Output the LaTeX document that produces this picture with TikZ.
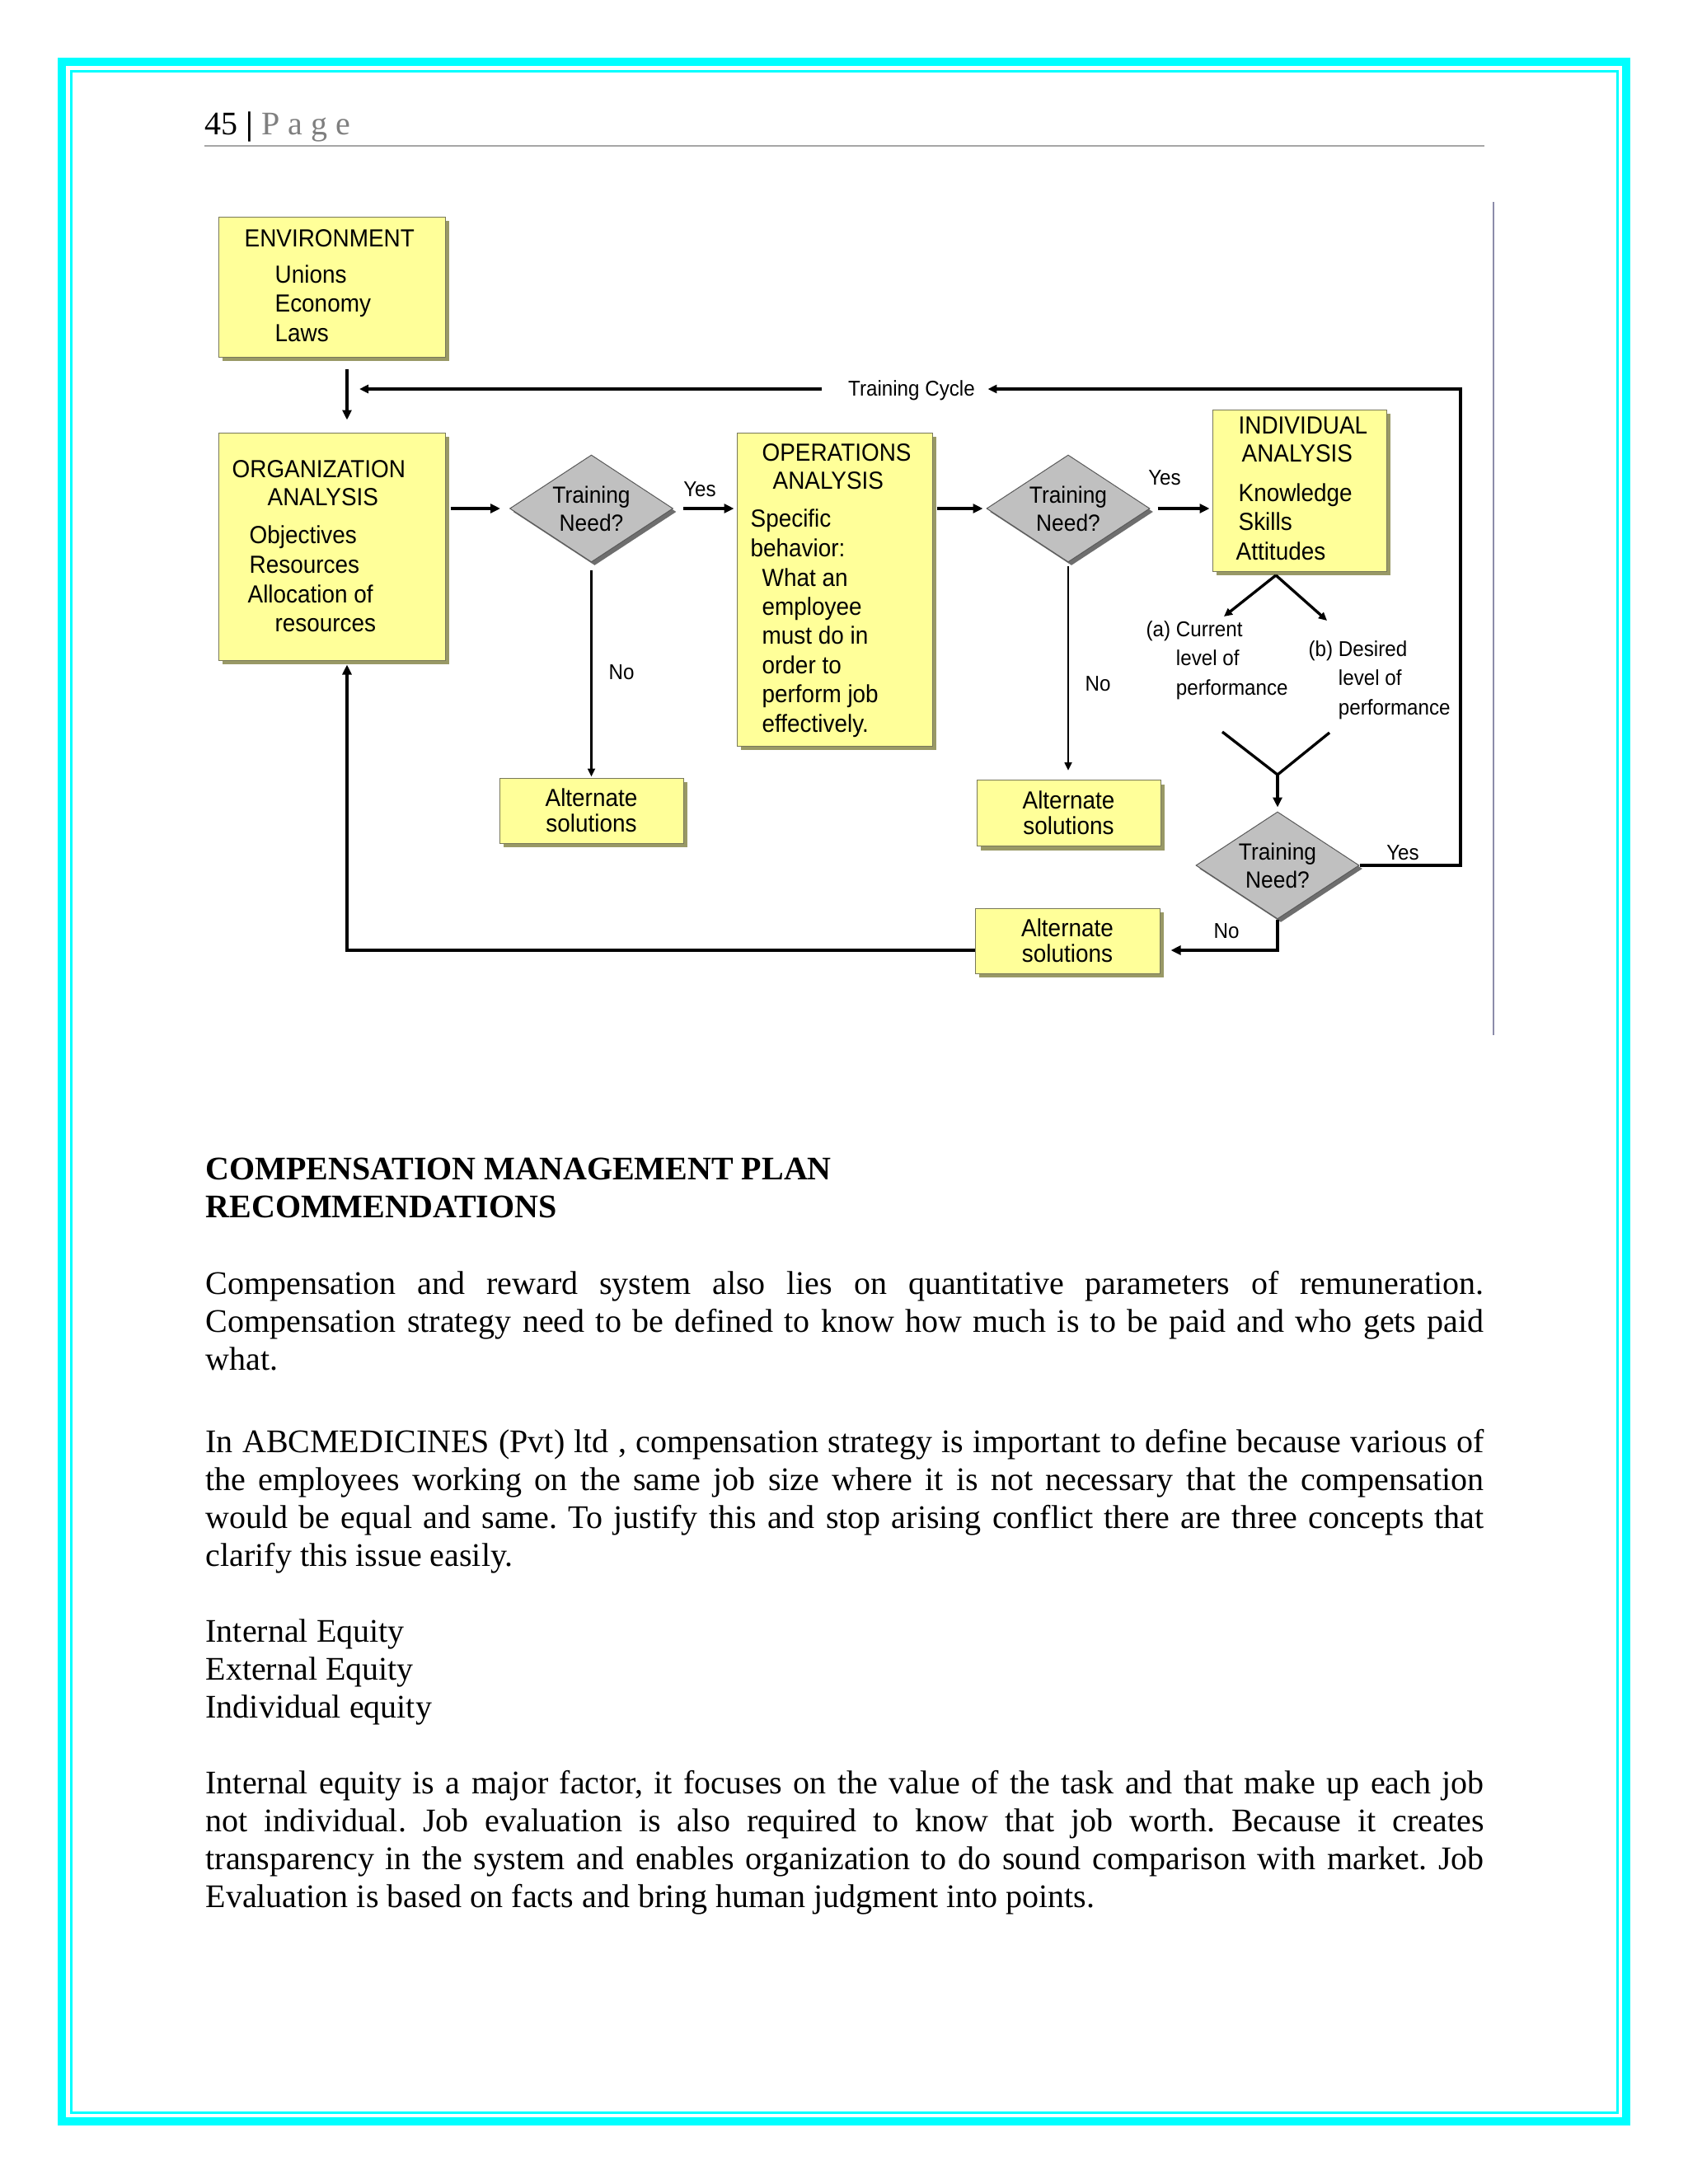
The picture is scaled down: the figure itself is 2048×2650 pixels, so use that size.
\documentclass[tikz,border=0pt]{standalone}
\usepackage{fontspec}
\setmainfont{Liberation Serif}
\newfontfamily\dg[FakeStretch=0.93]{Liberation Sans}
\usetikzlibrary{arrows.meta,shapes.geometric,shadows,calc}
\definecolor{boxyellow}{RGB}{255,255,153}
\definecolor{boxshadow}{RGB}{153,153,102}
\definecolor{boxedge}{RGB}{120,120,90}
\definecolor{diagray}{RGB}{192,192,192}
\definecolor{diaedge}{RGB}{90,90,90}
\definecolor{diashadow}{RGB}{110,110,110}
\definecolor{pagecyan}{RGB}{0,255,255}
\definecolor{rulegray}{RGB}{166,166,166}
\definecolor{pagegray}{RGB}{127,127,127}
\definecolor{marginline}{RGB}{140,140,170}
\newcommand{\jl}[1]{\makebox[465.3pt][s]{#1}}
\frenchspacing
\begin{document}
\begin{tikzpicture}[x=0.3pt,y=-0.3pt,
 box/.style={draw=boxedge, line width=0.3pt, fill=boxyellow, inner sep=0pt,
   drop shadow={shadow xshift=1.5pt, shadow yshift=-1.5pt, fill=boxshadow, opacity=1}},
 dia/.style={diamond, draw=diaedge, line width=0.3pt, fill=diagray, inner sep=0pt,
   minimum width=59.4pt, minimum height=39pt, aspect=1.52, align=center,
   font=\dg\fontsize{8.5}{10.2}\selectfont,
   drop shadow={shadow xshift=1.2pt, shadow yshift=-1.2pt, fill=diashadow, opacity=1}},
 bt/.style={anchor=base west, inner sep=0pt, font=\dg\fontsize{9}{10.8}\selectfont},
 alt/.style={box, align=center, font=\dg\fontsize{9}{9.3}\selectfont},
 lbl/.style={inner sep=0pt, font=\dg\fontsize{7.8}{10.7}\selectfont},
 arr/.style={line width=1.2pt, -{Triangle[length=3.6pt,width=3.3pt]}},
 arrthin/.style={line width=0.8pt, -{Triangle[length=3pt,width=2.6pt]}},
 cyc/.style={line width=1pt, -{Triangle[length=3.3pt,width=3pt]}},
 body/.style={anchor=base west, inner sep=0pt, font=\fontsize{12}{13.8}\selectfont},
]
\useasboundingbox (0,0) rectangle (2048,2650);
\fill[white] (0,0) rectangle (2048,2650);
% page border
\draw[pagecyan, line width=3pt] (75,75) rectangle (1973,2574);
\draw[pagecyan, line width=0.9pt] (86,86) rectangle (1962,2563);
% header
\node[body] (pg) at (248,163) {45 \textbf{|} \textcolor{pagegray}{P a g e}};
\draw[rulegray, line width=0.6pt] (248,177) -- (1801,177);
% margin line of the figure
\draw[marginline, line width=0.6pt] (1812,245) -- (1812,1256);

% boxes
\node[box, minimum width=82.5pt, minimum height=51pt] (env) at (402.5,348) {};
\node[box, minimum width=82.5pt, minimum height=82.8pt] (org) at (402.5,663) {};
\node[box, minimum width=71.1pt, minimum height=114pt] (ops) at (1012.5,715) {};
\node[box, minimum width=63.3pt, minimum height=58.8pt] (ind) at (1576.5,595) {};
\node[alt, minimum width=66.9pt, minimum height=23.7pt] (alt1) at (717.5,983.5) {Alternate\\solutions};
\node[alt, minimum width=66.9pt, minimum height=24pt] (alt2) at (1296.5,986.5) {Alternate\\solutions};
\node[alt, minimum width=67.2pt, minimum height=23.7pt] (alt3) at (1295,1141.5) {Alternate\\solutions};
% diamonds
\node[dia] (d1) at (717.5,617) {Training\\Need?};
\node[dia] (d2) at (1296,617) {Training\\Need?};
\node[dia] (d3) at (1550,1050) {Training\\Need?};

% box texts
\node[bt] (e1) at (296,299) {ENVIRONMENT};
\node[bt] (e2) at (333,343) {Unions};
\node[bt] (e3) at (333,378) {Economy};
\node[bt] (e4) at (333,414) {Laws};
\node[bt] (o1) at (281,579) {ORGANIZATION};
\node[bt] (o2) at (324,613) {ANALYSIS};
\node[bt] (o3) at (302,659) {Objectives};
\node[bt] (o4) at (302,695) {Resources};
\node[bt] (o5) at (300,731) {Allocation of};
\node[bt] (o6) at (333,766) {resources};
\node[bt] (p1) at (924,559) {OPERATIONS};
\node[bt] (p2) at (937,593) {ANALYSIS};
\node[bt] (p3) at (910,639) {Specific};
\node[bt] (p4) at (910,675) {behavior:};
\node[bt] (p5) at (924,711) {What an};
\node[bt] (p6) at (924,746) {employee};
\node[bt] (p7) at (924,781) {must do in};
\node[bt] (p8) at (924,817) {order to};
\node[bt] (p9) at (924,852) {perform job};
\node[bt] (p10) at (924,888) {effectively.};
\node[bt] (i1) at (1502,526) {INDIVIDUAL};
\node[bt] (i2) at (1506,560) {ANALYSIS};
\node[bt] (i3) at (1502,608) {Knowledge};
\node[bt] (i4) at (1502,643) {Skills};
\node[bt] (i5) at (1499,679) {Attitudes};

% labels
\node[lbl] (tcl) at (1106,474) {Training Cycle};
\node[lbl] (y1) at (849,594) {Yes};
\node[lbl] (y2) at (1413,580) {Yes};
\node[lbl] (y3) at (1702,1035) {Yes};
\node[lbl] (n1) at (754,816) {No};
\node[lbl] (n2) at (1332,830) {No};
\node[lbl] (n3) at (1488,1130) {No};
\node[lbl, anchor=base west] (la) at (1390,772) {(a) \begin{tabular}[t]{@{}l@{}}Current\\level of\\performance\end{tabular}};
\node[lbl, anchor=base west] (lb) at (1587,796) {(b) \begin{tabular}[t]{@{}l@{}}Desired\\level of\\performance\end{tabular}};

% coordinates
\coordinate (tc) at (436,472);
\coordinate (cy) at (1772,472);
\coordinate (fb) at (421,1153);
\coordinate (nb) at (1550,1153);
\coordinate (isp) at (1548,698);
\coordinate (ta) at (1485,748);
\coordinate (tb) at (1610,753);
\coordinate (ca) at (1483,888);
\coordinate (cb) at (1613,889);
\coordinate (jn) at (1550,940);

% connectors
\draw[arr, shorten <=4.2pt, shorten >=4.5pt] (env.south -| fb) -- (org.north -| fb);
\draw[arr, shorten <=1.8pt, shorten >=3.3pt] (org.east |- d1.west) -- (d1.west);
\draw[arr, shorten <=3.6pt, shorten >=0.9pt] (d1.east) -- (d1.east -| ops.west);
\draw[arr, shorten <=1.5pt, shorten >=1.2pt] (ops.east |- d2.west) -- (d2.west);
\draw[arr, shorten <=2.7pt, shorten >=0.9pt] (d2.east) -- (d2.east -| ind.west);
\draw[arrthin, shorten <=2.7pt, shorten >=0.3pt] (d1.south) -- (d1.south |- alt1.north);
\draw[arrthin, shorten <=1.2pt, shorten >=3.3pt] (d2.south) -- (d2.south |- alt2.north);
\draw[line width=1pt, -{Triangle[length=3pt,width=2.8pt]}] (isp) -- (ta);
\draw[line width=1pt, -{Triangle[length=3pt,width=2.8pt]}] (isp) -- (tb);
\draw[line width=1pt] (ca) -- (jn) -- (cb);
\draw[arr, shorten >=1.5pt] (jn) -- (d3.north);
\draw[cyc, shorten >=4.5pt] (d3.east) -- (d3.east -| cy) -- (cy) -- (tcl.east |- cy);
\draw[cyc, shorten <=9.6pt] (tcl.west |- tc) -- (tc);
\draw[arr, shorten >=3.9pt] (d3.south) -- (nb) -- (nb -| alt3.east);
\draw[arr, shorten >=1.5pt] (nb -| alt3.west) -- (fb) -- (fb |- org.south);

% body text
\node[body] (h1) at (249,1431) {\textbf{COMPENSATION MANAGEMENT PLAN}};
\node[body] (h2) at (249,1477) {\textbf{RECOMMENDATIONS}};
\node[body] (a1) at (249,1570) {\jl{Compensation and reward system also lies on quantitative parameters of remuneration.}};
\node[body] (a2) at (249,1616) {\jl{Compensation strategy need to be defined to know how much is to be paid and who gets paid}};
\node[body] (a3) at (249,1662) {what.};
\node[body] (b1) at (249,1762) {\jl{In ABCMEDICINES (Pvt) ltd , compensation strategy is important to define because various of}};
\node[body] (b2) at (249,1808) {\jl{the employees working on the same job size where it is not necessary that the compensation}};
\node[body] (b3) at (249,1854) {\jl{would be equal and same. To justify this and stop arising conflict there are three concepts that}};
\node[body] (b4) at (249,1900) {clarify this issue easily.};
\node[body] (c1) at (249,1992) {Internal Equity};
\node[body] (c2) at (249,2038) {External Equity};
\node[body] (c3) at (249,2084) {Individual equity};
\node[body] (d1t) at (249,2176) {\jl{Internal equity is a major factor, it focuses on the value of the task and that make up each job}};
\node[body] (d2t) at (249,2222) {\jl{not individual. Job evaluation is also required to know that job worth. Because it creates}};
\node[body] (d3t) at (249,2268) {\jl{transparency in the system and enables organization to do sound comparison with market. Job}};
\node[body] (d4t) at (249,2314) {Evaluation is based on facts and bring human judgment into points.};
\end{tikzpicture}
\end{document}
